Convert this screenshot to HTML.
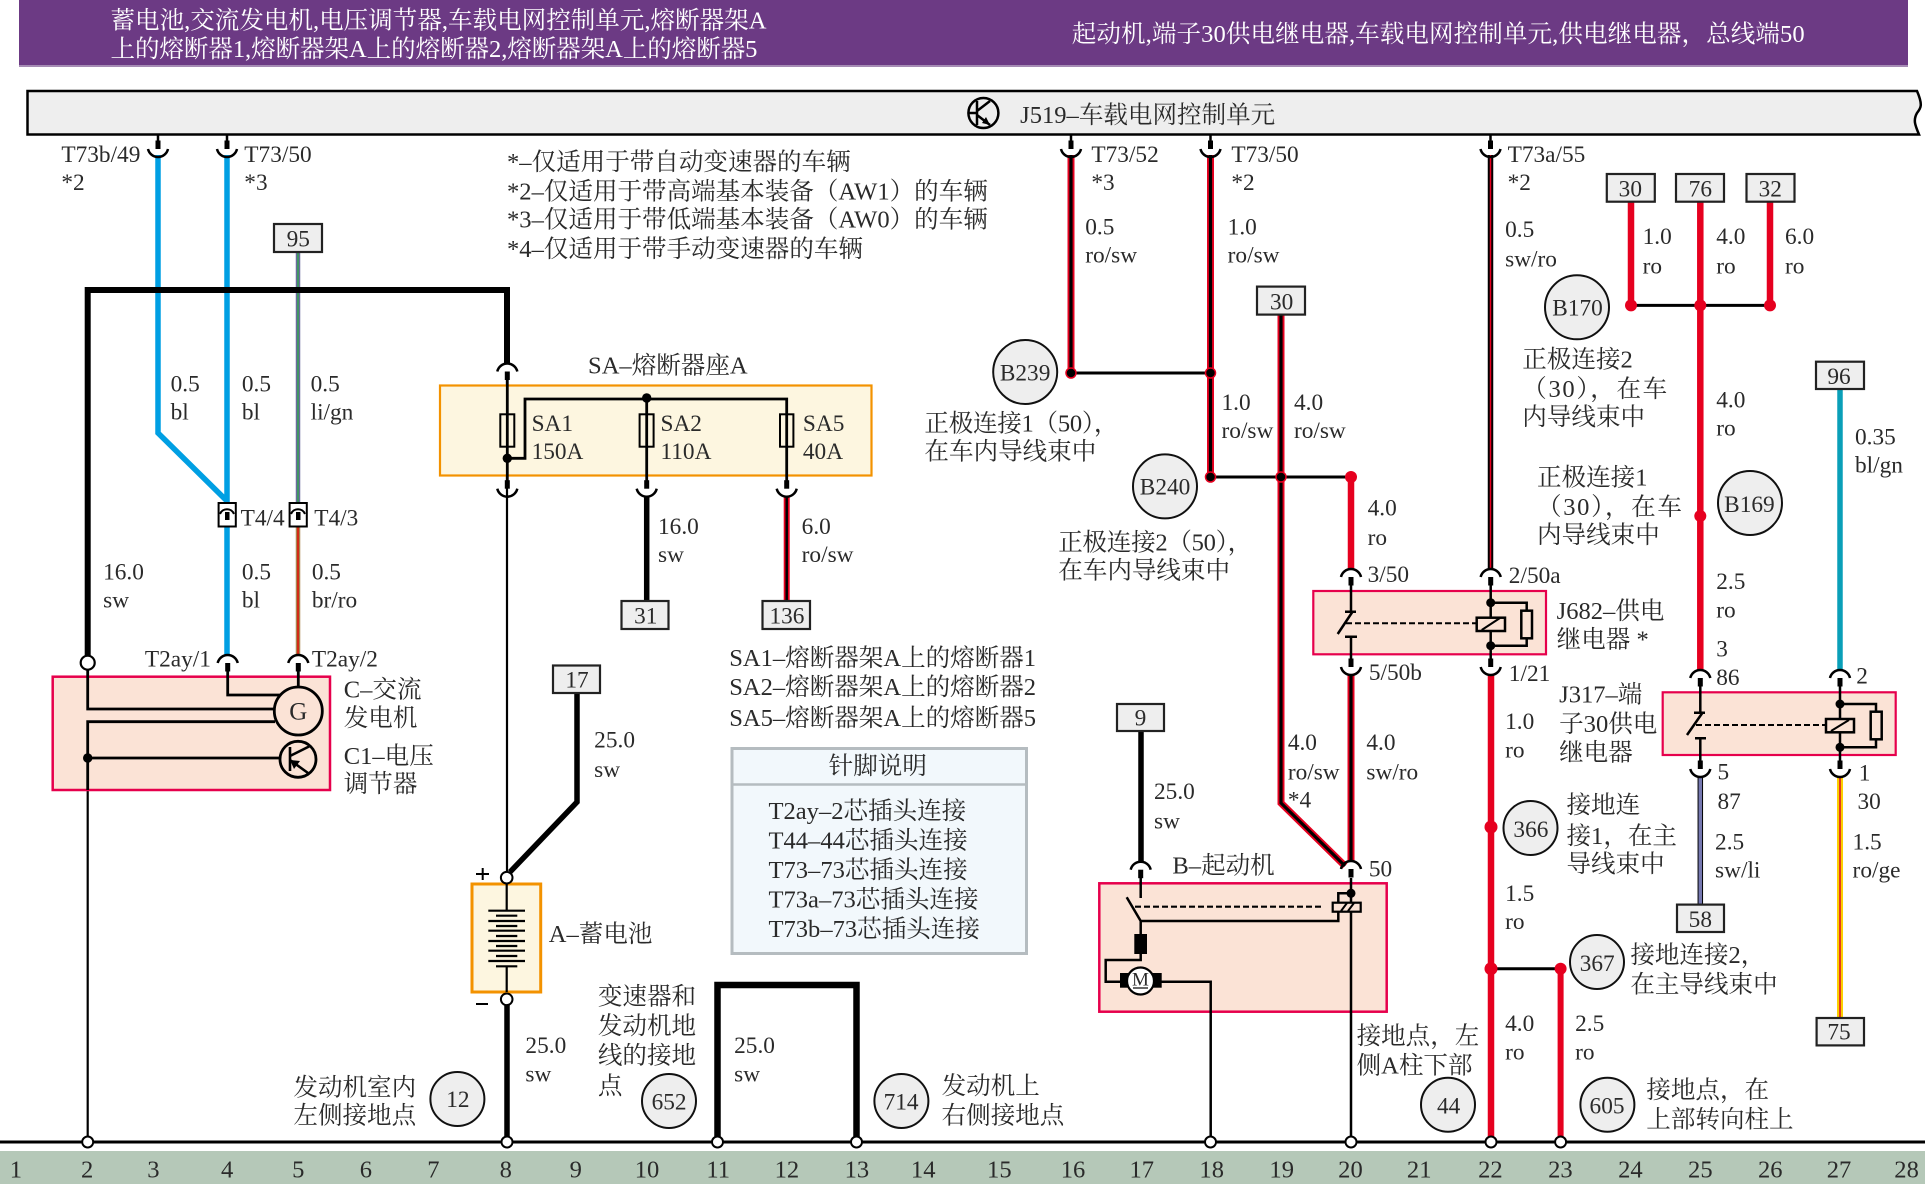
<!DOCTYPE html>
<html lang="zh"><head><meta charset="utf-8"><title>电路图</title>
<style>
html,body{margin:0;padding:0;background:#fff;width:1925px;height:1184px;overflow:hidden}
svg{display:block}
text{font-family:"Liberation Serif","Noto Serif CJK SC",serif;fill:#2a2a2a;dominant-baseline:central;font-size:20px}
.l text,text.l{font-size:19px}
.w text{fill:#fff}
.m text{text-anchor:middle}
</style></head><body>
<svg width="1925" height="1184" viewBox="0 0 1925 1184" xmlns="http://www.w3.org/2000/svg">
<defs>
<g id="t"><path d="M-10 8A10.25 10.25 0 0 1 10 8" fill="none" stroke="#000" stroke-width="2.5"/><rect x="-2.5" y="8" width="5" height="8.5" fill="#000"/></g>
<g id="u"><path d="M-10 -8A10.25 10.25 0 0 0 10 -8" fill="none" stroke="#000" stroke-width="2.5"/><rect x="-2.5" y="-16.5" width="5" height="8.5" fill="#000"/></g>
<circle id="g" r="5.5" fill="#fff" stroke="#000" stroke-width="2"/>
</defs>
<rect width="1925" height="1184" fill="#fff"/>
<!-- header -->
<rect x="19" y="0" width="1889" height="65" fill="#6c3a84"/>
<rect x="19" y="65" width="1889" height="2" fill="#a58bb4"/>
<!-- bar -->
<path d="M27.500 91H1917C1923 105 1921 108 1917 113C1913 120 1915 125 1919 134.500H27.500Z" fill="#eee" stroke="#000" stroke-width="2.500"/>
<circle cx="983.400" cy="113" r="15" fill="none" stroke="#000" stroke-width="2.500"/>
<path d="M977 101V125M969 113H977M977 111L990 101M977 115L990 125" fill="none" stroke="#000" stroke-width="2.500"/>
<path d="M990 125L982 123L986 117Z" fill="#000"/>
<!-- ground band -->
<rect x="0" y="1151" width="1925" height="33" fill="#b5c8b8"/>
<rect x="0" y="1140.500" width="1925" height="3" fill="#000"/>

<!-- thin stubs -->
<path d="M158 135V142M227 135V142M1071 135V142M1210.500 135V142M1490.500 135V142" stroke="#000" stroke-width="2.500" fill="none"/>

<!-- blue and other wires -->
<path d="M158 155V433L227 501M227 155V503" fill="none" stroke="#009fe3" stroke-width="5.500"/>
<path d="M227 526V655" fill="none" stroke="#009fe3" stroke-width="5.500"/>
<path d="M298 252V503" stroke="#6b6a9f" stroke-width="4.500" fill="none"/><path d="M298 252V503" stroke="#3e9a5e" stroke-width="1.800" fill="none"/>
<path d="M298 526V655" stroke="#a8854f" stroke-width="4.500" fill="none"/><path d="M298 526V655" stroke="#d8200f" stroke-width="1.800" fill="none"/>
<path d="M87.700 656V290H507V364" fill="none" stroke="#000" stroke-width="6"/>
<path d="M577 693V802L510 872" fill="none" stroke="#000" stroke-width="5.500"/>
<path d="M507 1005V1142M646.700 497V601M1141 731V862" fill="none" stroke="#000" stroke-width="5.500"/>
<path d="M717.500 1142V985H856.500V1142" fill="none" stroke="#000" stroke-width="6.500"/>
<!-- thin col 8 -->
<path d="M507 380V872" stroke="#000" stroke-width="2.200" fill="none"/>
<path d="M87.700 790V1142" stroke="#000" stroke-width="2.200" fill="none"/>
<!-- red/black -->
<path d="M786.700 497V601" stroke="#e6001f" stroke-width="6" fill="none"/><path d="M786.700 497V601" stroke="#000" stroke-width="2.500" fill="none"/>
<g fill="none" stroke="#e6001f" stroke-width="7">
<path d="M1071 155V373M1210.500 155V477M1281 315V803L1345 866M1351 675V862"/></g>
<g fill="none" stroke="#000" stroke-width="3.200">
<path d="M1071 155V373M1210.500 155V477M1281 315V803L1345 866M1351 675V862"/></g>
<path d="M1490.500 155V570" stroke="#000" stroke-width="5.500" fill="none"/><path d="M1490.500 155V570" stroke="#e6001f" stroke-width="1.500" fill="none"/>
<path d="M1071 373H1210.500M1210.500 477H1351M1631 305.400H1770M1491 968.700H1560" stroke="#000" stroke-width="3" fill="none"/>
<g fill="none" stroke="#e6001f" stroke-width="6.500">
<path d="M1351 477V570M1631 202V305M1770 202V305M1700.300 202V670M1491 675V1142"/>
<path d="M1560.600 968V1142" stroke-width="6"/></g>
<path d="M1700.300 777V905" stroke="#000" stroke-width="5.500" fill="none"/><path d="M1700.300 777V905" stroke="#7578b0" stroke-width="3.500" fill="none"/>
<path d="M1840 389V670" stroke="#0a9fb8" stroke-width="5.500" fill="none"/>
<path d="M1840 777V1018" stroke="#fbd000" stroke-width="6" fill="none"/><path d="M1840 777V1018" stroke="#e43a1c" stroke-width="2" fill="none"/>

<!-- T4 connectors -->
<g fill="#fff" stroke="#000" stroke-width="2"><rect x="218.600" y="503" width="17.200" height="23.500"/><rect x="289.600" y="503" width="17.200" height="23.500"/></g>
<path d="M220 514A7.500 7.500 0 0 1 234 514M291 514A7.500 7.500 0 0 1 305 514" fill="none" stroke="#000" stroke-width="2"/>
<rect x="225" y="512" width="4.500" height="8" fill="#000"/><rect x="296" y="512" width="4.500" height="8" fill="#000"/>

<!-- SA box -->
<rect x="440" y="385.500" width="431.500" height="90" fill="#fdf6e0" stroke="#f39200" stroke-width="2.200"/>
<path d="M507.300 380V482M507.300 458.300H525V399H786.700V482M646.700 399V482" fill="none" stroke="#000" stroke-width="2.800"/>
<g fill="#fdf6e0" fill-opacity="0" stroke="#000" stroke-width="2"><rect x="500.300" y="414.300" width="14" height="32.400"/><rect x="639.600" y="414.300" width="14" height="32.400"/><rect x="780" y="414.300" width="13.400" height="32.400"/></g>
<circle cx="507.300" cy="458.300" r="4.700"/><circle cx="646.700" cy="398" r="4.700"/>

<!-- alternator box -->
<rect x="52.700" y="676.700" width="277.300" height="113.300" fill="#fbe3d6" stroke="#e6004c" stroke-width="2.500"/>
<path d="M87.700 669V709H275M275 721.700H87.700V790M87.700 758H280M227.700 670V695H282M298.300 670V688" fill="none" stroke="#000" stroke-width="2.800"/>
<circle cx="87.700" cy="758" r="4.700"/>
<circle cx="298.300" cy="711" r="24" fill="#fbe3d6" stroke="#000" stroke-width="2.800"/>
<text x="298.300" y="712" text-anchor="middle" style="font-size:25px">G</text>
<circle cx="298" cy="759.300" r="18" fill="#fbe3d6" stroke="#000" stroke-width="2.800"/>
<path d="M290 747V771M290 756L310 746M290 760L308 773" fill="none" stroke="#000" stroke-width="2.600"/>
<path d="M290 760L300 761L294 769Z" fill="#000"/>
<circle cx="87.700" cy="662.700" r="7" fill="#fff" stroke="#000" stroke-width="2.200"/>

<!-- battery -->
<rect x="472" y="884" width="68.700" height="108" fill="#fdf6e0" stroke="#f39200" stroke-width="3"/>
<path d="M506.700 884V910M506.700 966V992" stroke="#000" stroke-width="2.200"/>
<path d="M488.300 910.700H525M496 915.700H517.300M488.300 921H525M496 926H517.300M488.300 930.700H525M496 936H517.300M488.300 941H525M496 946H517.300M488.300 950.700H525M496 956H517.300M488.300 961H525M496 966.300H517.300" stroke="#000" stroke-width="2.200"/>
<circle cx="506.700" cy="877.700" r="5.800" fill="#fff" stroke="#000" stroke-width="2"/>
<circle cx="506.700" cy="999.300" r="5.800" fill="#fff" stroke="#000" stroke-width="2"/>
<path d="M476 874H489M482.700 868V880M476 1004H488" stroke="#000" stroke-width="2"/>

<!-- J682 -->
<rect x="1313.300" y="591" width="232.700" height="63.300" fill="#fbe3d6" stroke="#e6004c" stroke-width="2.200"/>
<path d="M1351 585V612M1345 611.700H1356M1353 611L1337.700 634M1345 636.700H1357M1351 636.700V660M1490.700 585V660M1490.700 602.700H1526.700V645.700H1490.700" fill="none" stroke="#000" stroke-width="2.500"/>
<path d="M1346 623.300H1477" stroke="#000" stroke-width="2" stroke-dasharray="6 3"/>
<rect x="1476.700" y="617.700" width="28.300" height="13.300" fill="#fbe3d6" stroke="#000" stroke-width="2.500"/>
<path d="M1481.700 630L1500 618" stroke="#000" stroke-width="2"/>
<rect x="1521.300" y="610.700" width="10.700" height="27.600" fill="#fbe3d6" stroke="#000" stroke-width="2.500"/>
<circle cx="1490.700" cy="602.700" r="4.500"/><circle cx="1490.700" cy="645.700" r="4.500"/>

<!-- J317 -->
<rect x="1662.700" y="692.300" width="233" height="62.700" fill="#fbe3d6" stroke="#e6004c" stroke-width="2.200"/>
<path d="M1700.300 686V713M1694 712.700H1705M1703 712L1687 735M1695 738.300H1706M1700.300 738.300V762M1840 686V762M1840 704H1876V747.300H1840" fill="none" stroke="#000" stroke-width="2.500"/>
<path d="M1696 725H1826" stroke="#000" stroke-width="2" stroke-dasharray="6 3"/>
<rect x="1826" y="719" width="28" height="13.300" fill="#fbe3d6" stroke="#000" stroke-width="2.500"/>
<path d="M1831 731L1849 720" stroke="#000" stroke-width="2"/>
<rect x="1870.700" y="711.700" width="11" height="27.600" fill="#fbe3d6" stroke="#000" stroke-width="2.500"/>
<circle cx="1840" cy="704" r="4.500"/><circle cx="1840" cy="747.300" r="4.500"/>

<!-- starter -->
<rect x="1099.300" y="883.300" width="287.400" height="128.400" fill="#fbe3d6" stroke="#e6004c" stroke-width="2.500"/>
<path d="M1140.700 878V898M1126.700 897.300L1140.700 921H1338.300V893.300H1351M1140.700 921V934M1140.700 954V960H1105.700V981.700H1121M1161 981.700H1210.700V1142M1351 878V1142" fill="none" stroke="#000" stroke-width="2.500"/>
<path d="M1135 906.700H1322" stroke="#000" stroke-width="2.200" stroke-dasharray="6 3"/>
<rect x="1332.700" y="902.700" width="28" height="9" fill="#fbe3d6" stroke="#000" stroke-width="2.200"/>
<path d="M1341 911L1347 903M1348 911L1354 903" stroke="#000" stroke-width="2"/>
<circle cx="1351" cy="893.300" r="4.500"/>
<rect x="1134.300" y="934" width="12.700" height="20"/>
<rect x="1120" y="973" width="41.700" height="14.700"/>
<circle cx="1140.500" cy="981" r="13.500" fill="#fff" stroke="#000" stroke-width="2.200"/>
<text x="1140.500" y="980" style="font-size:19px" text-anchor="middle">M</text>
<path d="M1133 988H1148" stroke="#000" stroke-width="1.200"/>

<!-- caps -->
<use href="#u" x="158" y="157"/><use href="#u" x="227" y="157"/><use href="#u" x="1071" y="157"/><use href="#u" x="1210.500" y="157"/><use href="#u" x="1490.500" y="157"/>
<use href="#u" x="507.300" y="496.700"/><use href="#u" x="646.700" y="496.700"/><use href="#u" x="786.700" y="496.700"/>
<use href="#u" x="1351" y="675"/><use href="#u" x="1490.700" y="675"/><use href="#u" x="1700.300" y="777"/><use href="#u" x="1840" y="777"/>
<use href="#t" x="507.300" y="363.500"/><use href="#t" x="1351" y="569"/><use href="#t" x="1490.700" y="569"/>
<use href="#t" x="227.700" y="655"/><use href="#t" x="298.300" y="655"/><use href="#t" x="1700.300" y="670"/><use href="#t" x="1840" y="670"/>
<use href="#t" x="1140.700" y="861.700"/><use href="#t" x="1351" y="861"/>

<!-- junctions -->
<g fill="#000" stroke="#e6001f" stroke-width="1.500"><circle cx="1071" cy="373" r="5"/><circle cx="1210.500" cy="373" r="5"/><circle cx="1210.500" cy="477" r="5"/><circle cx="1281" cy="477" r="5"/></g>
<g fill="#e6001f"><circle cx="1351" cy="477" r="6"/><circle cx="1631" cy="305.400" r="6"/><circle cx="1700.300" cy="305.400" r="6"/><circle cx="1770" cy="305.400" r="6"/><circle cx="1700.300" cy="516" r="6"/><circle cx="1491" cy="827" r="6.500"/><circle cx="1491" cy="968.700" r="6.500"/><circle cx="1560.600" cy="968.700" r="6"/></g>
<!-- ground terminals -->
<use href="#g" x="87.700" y="1142"/><use href="#g" x="507" y="1142"/><use href="#g" x="717.500" y="1142"/><use href="#g" x="856.500" y="1142"/><use href="#g" x="1210.500" y="1142"/><use href="#g" x="1351" y="1142"/><use href="#g" x="1491" y="1142"/><use href="#g" x="1560.600" y="1142"/>

<!-- number boxes -->
<g fill="#eee" stroke="#222" stroke-width="2.200">
<rect x="274" y="224" width="48" height="28"/><rect x="621.500" y="601" width="47" height="28"/><rect x="762.500" y="601" width="47.500" height="28"/><rect x="553" y="665.500" width="47" height="27.500"/>
<rect x="1117" y="704" width="47" height="27"/><rect x="1257" y="286.600" width="48" height="28"/><rect x="1606.800" y="174" width="48" height="27.700"/><rect x="1676" y="174" width="48" height="27.700"/><rect x="1746.500" y="174" width="48" height="27.700"/>
<rect x="1816" y="361.700" width="48" height="27.300"/><rect x="1677" y="904.600" width="47" height="27.400"/><rect x="1816.600" y="1018" width="47.400" height="27.400"/>
</g>
<!-- circles -->
<g fill="#eee" stroke="#111" stroke-width="2">
<circle cx="1025.200" cy="372" r="32"/><circle cx="1165" cy="486.400" r="32"/><circle cx="1577" cy="307.300" r="32"/><circle cx="1750" cy="503" r="32"/>
<circle cx="457.400" cy="1099" r="27"/><circle cx="669" cy="1101" r="27"/><circle cx="901.400" cy="1101" r="27"/><circle cx="1530.500" cy="828" r="27"/><circle cx="1597" cy="962" r="27"/><circle cx="1448" cy="1104.700" r="27"/><circle cx="1607.400" cy="1104.700" r="27"/>
</g>
<!-- table -->
<rect x="732" y="748.500" width="294.500" height="205" fill="#f2f8fc" stroke="#b5bcc0" stroke-width="3"/>
<path d="M732 784.500H1026.500" stroke="#b5bcc0" stroke-width="2.500"/>

<g transform="scale(1.22768) translate(0 1.2)">
<g class="w">
<text x="90" y="16">蓄电池,交流发电机,电压调节器,车载电网控制单元,熔断器架A</text>
<text x="90" y="39" textLength="527">上的熔断器1,熔断器架A上的熔断器2,熔断器架A上的熔断器5</text>
<text x="873" y="27" textLength="597">起动机,端子30供电继电器,车载电网控制单元,供电继电器，总线端50</text>
</g>
<text x="831" y="93">J519–车载电网控制单元</text>
<text x="413" y="131">*–仅适用于带自动变速器的车辆</text>
<text x="413" y="155">*2–仅适用于带高端基本装备（AW1）的车辆</text>
<text x="413" y="178">*3–仅适用于带低端基本装备（AW0）的车辆</text>
<text x="413" y="202">*4–仅适用于带手动变速器的车辆</text>
<text x="479" y="297">SA–熔断器座A</text>
<text x="280" y="561">C–交流</text><text x="280" y="584">发电机</text><text x="280" y="615">C1–电压</text><text x="280" y="638">调节器</text>
<text x="594" y="535">SA1–熔断器架A上的熔断器1</text><text x="594" y="559">SA2–熔断器架A上的熔断器2</text><text x="594" y="584">SA5–熔断器架A上的熔断器5</text>
<text x="715" y="623" text-anchor="middle">针脚说明</text>
<text x="626" y="660">T2ay–2芯插头连接</text><text x="626" y="684">T44–44芯插头连接</text><text x="626" y="708">T73–73芯插头连接</text><text x="626" y="732">T73a–73芯插头连接</text><text x="626" y="756">T73b–73芯插头连接</text>
<text x="447" y="760">A–蓄电池</text>
<text x="239" y="885">发动机室内</text><text x="239" y="908">左侧接地点</text>
<text x="487" y="811">变速器和</text><text x="487" y="835">发动机地</text><text x="487" y="859">线的接地</text><text x="487" y="884">点</text>
<text x="767" y="884">发动机上</text><text x="767" y="908">右侧接地点</text>
<text x="955" y="704">B–起动机</text>
<text x="753" y="344" textLength="158">正极连接1（50），</text><text x="753" y="367">在车内导线束中</text>
<text x="862" y="441" textLength="158">正极连接2（50），</text><text x="862" y="464">在车内导线束中</text>
<text x="1240" y="292">正极连接2</text><text x="1240" y="316" textLength="118">（30），在车</text><text x="1240" y="339">内导线束中</text>
<text x="1252" y="388">正极连接1</text><text x="1252" y="412" textLength="118">（30），在车</text><text x="1252" y="435">内导线束中</text>
<text x="1268" y="497">J682–供电</text><text x="1268" y="520">继电器 *</text>
<text x="1270" y="565">J317–端</text><text x="1270" y="589">子30供电</text><text x="1270" y="612">继电器</text>
<text x="1276" y="655">接地连</text><text x="1276" y="680">接1，在主</text><text x="1276" y="703">导线束中</text>
<text x="1328" y="777">接地连接2，</text><text x="1328" y="801">在主导线束中</text>
<text x="1105" y="843">接地点，左</text><text x="1105" y="867">侧A柱下部</text>
<text x="1341" y="887">接地点，在</text><text x="1341" y="911">上部转向柱上</text>

<g class="l">
<text x="50" y="125">T73b/49</text><text x="50" y="148">*2</text><text x="199" y="125">T73/50</text><text x="199" y="148">*3</text>
<text x="139" y="312">0.5</text><text x="139" y="335">bl</text><text x="197" y="312">0.5</text><text x="197" y="335">bl</text><text x="253" y="312">0.5</text><text x="253" y="335">li/gn</text>
<text x="196" y="421">T4/4</text><text x="256" y="421">T4/3</text>
<text x="84" y="465">16.0</text><text x="84" y="488">sw</text><text x="197" y="465">0.5</text><text x="197" y="488">bl</text><text x="254" y="465">0.5</text><text x="254" y="488">br/ro</text>
<text x="118" y="536">T2ay/1</text><text x="254" y="536">T2ay/2</text>
<text x="433" y="344">SA1</text><text x="433" y="367">150A</text><text x="538" y="344">SA2</text><text x="538" y="367">110A</text><text x="654" y="344">SA5</text><text x="654" y="367">40A</text>
<text x="536" y="428">16.0</text><text x="536" y="451">sw</text><text x="653" y="428">6.0</text><text x="653" y="451">ro/sw</text>
<text x="484" y="602">25.0</text><text x="484" y="626">sw</text><text x="940" y="644">25.0</text><text x="940" y="668">sw</text>
<text x="428" y="851">25.0</text><text x="428" y="874">sw</text><text x="598" y="851">25.0</text><text x="598" y="874">sw</text>
<text x="889" y="125">T73/52</text><text x="889" y="148">*3</text><text x="1003" y="125">T73/50</text><text x="1003" y="148">*2</text><text x="1228" y="125">T73a/55</text><text x="1228" y="148">*2</text>
<text x="884" y="184">0.5</text><text x="884" y="207">ro/sw</text><text x="1000" y="184">1.0</text><text x="1000" y="207">ro/sw</text>
<text x="1226" y="186">0.5</text><text x="1226" y="210">sw/ro</text>
<text x="1338" y="192">1.0</text><text x="1338" y="216">ro</text><text x="1398" y="192">4.0</text><text x="1398" y="216">ro</text><text x="1454" y="192">6.0</text><text x="1454" y="216">ro</text>
<text x="1398" y="325">4.0</text><text x="1398" y="348">ro</text><text x="1398" y="473">2.5</text><text x="1398" y="496">ro</text><text x="1398" y="528">3</text><text x="1398" y="551">86</text><text x="1512" y="550">2</text>
<text x="1511" y="355">0.35</text><text x="1511" y="378">bl/gn</text>
<text x="995" y="327">1.0</text><text x="995" y="350">ro/sw</text><text x="1054" y="327">4.0</text><text x="1054" y="350">ro/sw</text>
<text x="1114" y="413">4.0</text><text x="1114" y="437">ro</text><text x="1114" y="467">3/50</text><text x="1229" y="468">2/50a</text><text x="1115" y="547">5/50b</text><text x="1229" y="548">1/21</text>
<text x="1226" y="587">1.0</text><text x="1226" y="610">ro</text>
<text x="1399" y="628">5</text><text x="1399" y="652">87</text><text x="1514" y="629">1</text><text x="1513" y="652">30</text>
<text x="1397" y="685">2.5</text><text x="1397" y="708">sw/li</text><text x="1509" y="685">1.5</text><text x="1509" y="708">ro/ge</text>
<text x="1049" y="604">4.0</text><text x="1049" y="628">ro/sw</text><text x="1049" y="651">*4</text><text x="1113" y="604">4.0</text><text x="1113" y="628">sw/ro</text>
<text x="1115" y="707">50</text>
<text x="1226" y="727">1.5</text><text x="1226" y="750">ro</text><text x="1226" y="833">4.0</text><text x="1226" y="856">ro</text><text x="1283" y="833">2.5</text><text x="1283" y="856">ro</text>
</g>
<g class="m l">
<text x="243" y="194">95</text><text x="526" y="501">31</text><text x="641" y="501">136</text><text x="470" y="553">17</text><text x="929" y="584">9</text><text x="1044" y="245">30</text>
<text x="1328" y="153">30</text><text x="1385" y="153">76</text><text x="1442" y="153">32</text><text x="1498" y="306">96</text><text x="1385" y="748">58</text><text x="1498" y="840">75</text>
<text x="835" y="303">B239</text><text x="949" y="396">B240</text><text x="1285" y="250">B170</text><text x="1425" y="410">B169</text>
<text x="373" y="895">12</text><text x="545" y="897">652</text><text x="734" y="897">714</text><text x="1247" y="675">366</text><text x="1301" y="784">367</text><text x="1180" y="900">44</text><text x="1309" y="900">605</text>
</g>
<g class="m">
<text x="13" y="952">1</text><text x="71" y="952">2</text><text x="125" y="952">3</text><text x="185" y="952">4</text><text x="243" y="952">5</text><text x="298" y="952">6</text><text x="353" y="952">7</text><text x="412" y="952">8</text><text x="469" y="952">9</text><text x="527" y="952">10</text><text x="585" y="952">11</text><text x="641" y="952">12</text><text x="698" y="952">13</text><text x="752" y="952">14</text><text x="814" y="952">15</text><text x="874" y="952">16</text><text x="930" y="952">17</text><text x="987" y="952">18</text><text x="1044" y="952">19</text><text x="1100" y="952">20</text><text x="1156" y="952">21</text><text x="1214" y="952">22</text><text x="1271" y="952">23</text><text x="1328" y="952">24</text><text x="1385" y="952">25</text><text x="1442" y="952">26</text><text x="1498" y="952">27</text><text x="1553" y="952">28</text>
</g>
</g>
</svg>
</body></html>
